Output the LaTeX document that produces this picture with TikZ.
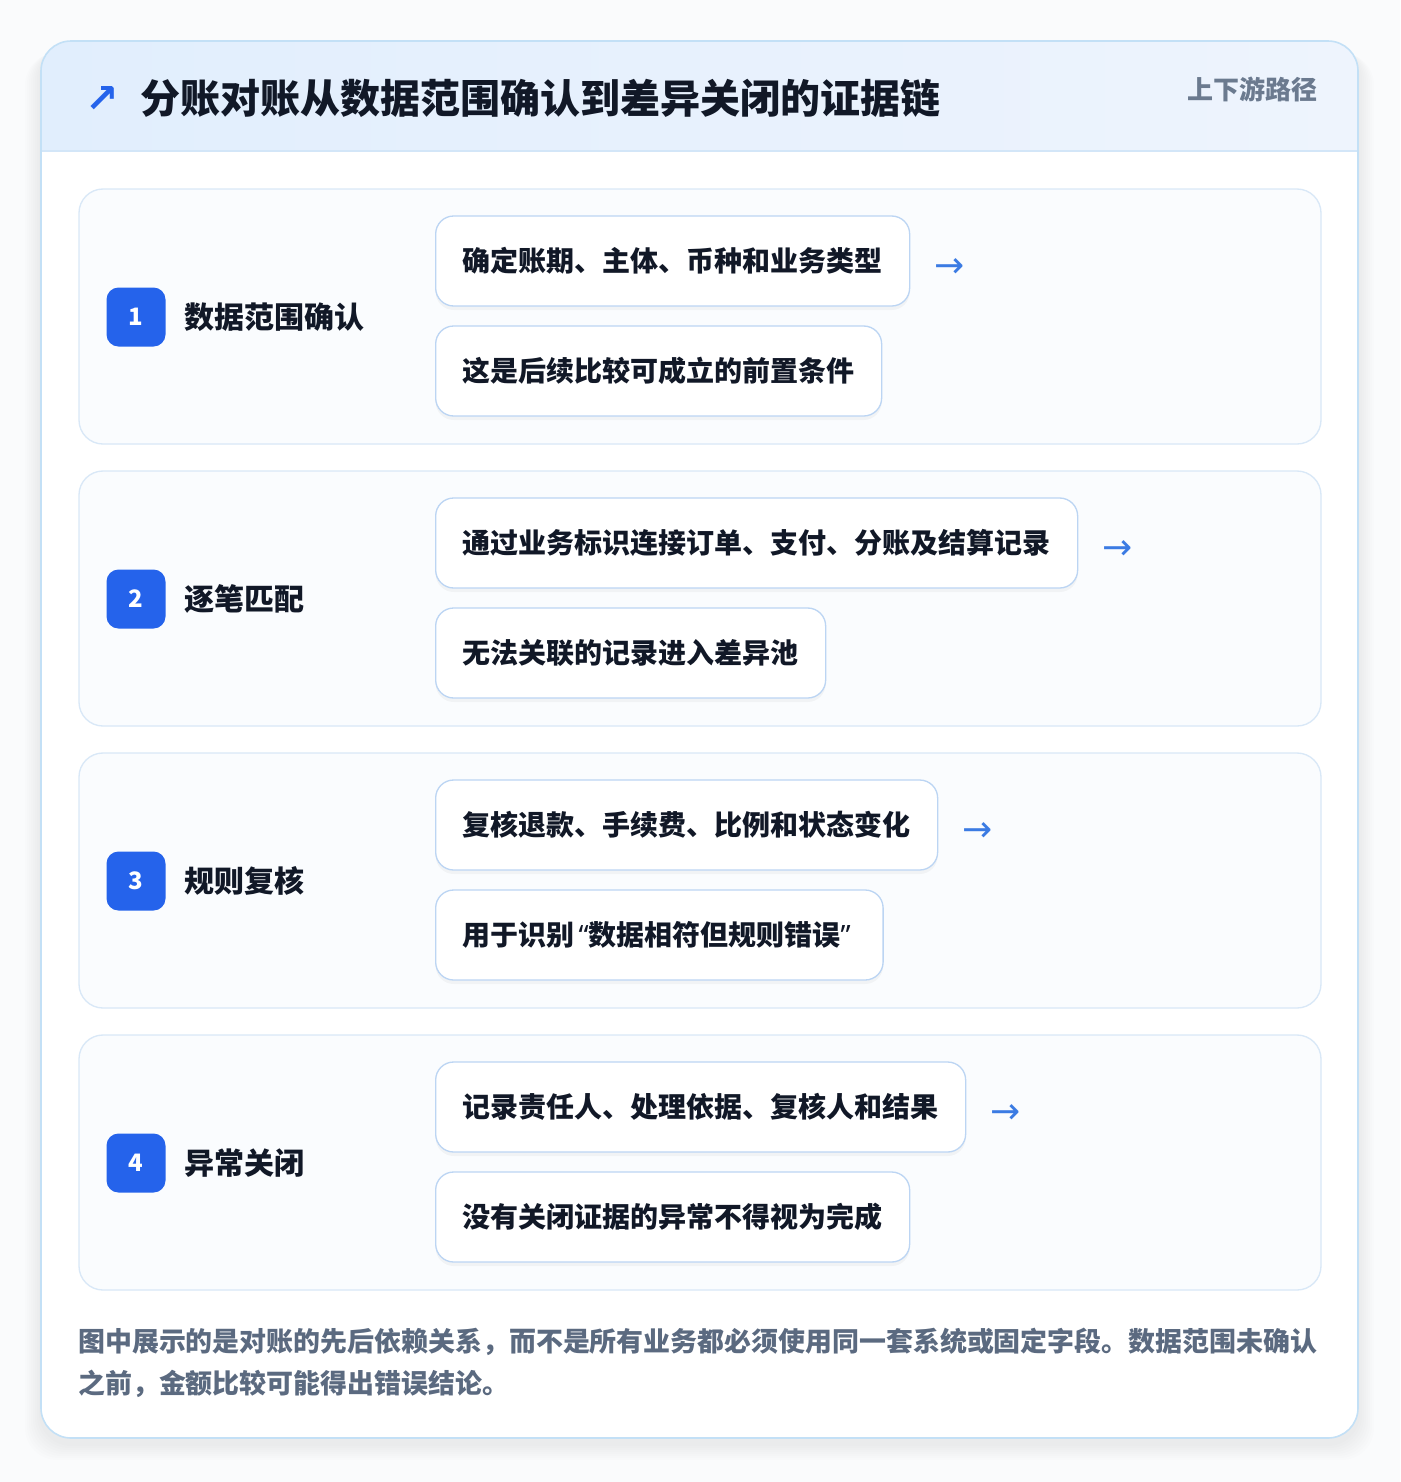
\documentclass[tikz,border=0pt]{standalone}
\usepackage{fontspec}
\setmainfont{Noto Sans CJK SC}
\newfontfamily\arrowfont{DejaVu Sans}
\newfontfamily\quotefont{Noto Sans}
\usetikzlibrary{positioning,shadows}
\definecolor{pagebg}{HTML}{FAFBFC}
\definecolor{cardline}{HTML}{C3E0F6}
\definecolor{headleft}{HTML}{E1EEFD}
\definecolor{headright}{HTML}{EEF4FD}
\definecolor{headrule}{HTML}{D3E6F8}
\definecolor{panelfill}{HTML}{FAFCFE}
\definecolor{panelline}{HTML}{D9E8F7}
\definecolor{boxline}{HTML}{BCD5F3}
\definecolor{badgeblue}{HTML}{2563EB}
\definecolor{arrowblue}{HTML}{3B7BE3}
\definecolor{inkdark}{HTML}{111827}
\definecolor{inkgrey}{HTML}{6B7A8F}
\definecolor{notegrey}{HTML}{5B6A80}
\def\titlefont{\fontsize{30pt}{36pt}\selectfont\bfseries}
\def\stepfont{\fontsize{22.5pt}{27pt}\selectfont\bfseries}
\def\itemfont{\fontsize{21pt}{25pt}\selectfont\bfseries}
\def\notefont{\fontsize{20.2pt}{31.5pt}\selectfont\bfseries}
\def\lq{\kern3pt{\quotefont\bfseries “}}
\def\rq{{\quotefont\bfseries ”}\kern4pt}
\tikzset{
  panel/.style={draw=panelline,line width=1pt,fill=panelfill,rounded corners=18pt},
  badge/.style={fill=badgeblue,rounded corners=9pt,minimum size=44.25pt,inner sep=0pt,
    text=white,font=\fontsize{18pt}{20pt}\selectfont\bfseries},
  steptitle/.style={inner sep=0pt,text=inkdark,font=\stepfont,anchor=west},
  itembox/.style={draw=boxline,line width=1pt,fill=white,rounded corners=13.5pt,
    minimum height=67.5pt,inner xsep=20.25pt,inner ysep=0pt,text=inkdark,font=\itemfont,anchor=west,
    drop shadow={shadow xshift=0pt,shadow yshift=-3pt,opacity=0.035,fill=black}},
  nextarrow/.style={inner sep=0pt,text=arrowblue,yshift=-5.5pt,font=\arrowfont\fontsize{27pt}{29pt}\selectfont}
}
\begin{document}
\begin{tikzpicture}[x=0.75pt,y=-0.75pt,line join=round]
  \useasboundingbox[fill=pagebg] (0,0) rectangle (1400,1482);
  %% card shadow
  \foreach \k in {1,...,8}
    \fill[black,opacity=0.007,rounded corners=24pt] (41-2*\k,41+4+\k) rectangle (1358+2*\k,1438+6+2*\k);
  %% card
  \fill[white,rounded corners=22.5pt] (41,41) rectangle (1358,1438);
  \begin{scope}
    \clip[rounded corners=22.5pt] (41,41) rectangle (1358,1438);
    \shade[left color=headleft,right color=headright] (41,41) rectangle (1358,151);
    \draw[headrule,line width=1pt] (41,151) -- (1358,151);
  \end{scope}
  \draw[cardline,line width=1.2pt,rounded corners=22.5pt] (41,41) rectangle (1358,1438);
  %% header
  \node[inner sep=0pt,text=badgeblue,font=\arrowfont\bfseries\fontsize{30pt}{32pt}\selectfont] (icon) at (102,99) {↗};
  \node[inner sep=0pt,anchor=west,text=inkdark,font=\titlefont] (title) at (140,98) {分账对账从数据范围确认到差异关闭的证据链};
  \node[inner sep=0pt,anchor=east,text=inkgrey,font=\fontsize{19.5pt}{22pt}\selectfont\bfseries] (tag) at (1318,89) {上下游路径};
  %% step 1
  \draw[panel] (79,189) rectangle (1321,444);
  \node[badge] (n1) at (136,317) {1};
  \node[steptitle,right=14pt of n1] (t1) {数据范围确认};
  \node[itembox] (b11) at (435,261) {确定账期、主体、币种和业务类型};
  \node[itembox] (b12) at (435,371) {这是后续比较可成立的前置条件};
  \node[nextarrow,right=18pt of b11] (a1) {→};
  %% step 2
  \draw[panel] (79,471) rectangle (1321,726);
  \node[badge] (n2) at (136,599) {2};
  \node[steptitle,right=14pt of n2] (t2) {逐笔匹配};
  \node[itembox] (b21) at (435,543) {通过业务标识连接订单、支付、分账及结算记录};
  \node[itembox] (b22) at (435,653) {无法关联的记录进入差异池};
  \node[nextarrow,right=18pt of b21] (a2) {→};
  %% step 3
  \draw[panel] (79,753) rectangle (1321,1008);
  \node[badge] (n3) at (136,881) {3};
  \node[steptitle,right=14pt of n3] (t3) {规则复核};
  \node[itembox] (b31) at (435,825) {复核退款、手续费、比例和状态变化};
  \node[itembox] (b32) at (435,935) {用于识别\lq 数据相符但规则错误\rq};
  \node[nextarrow,right=18pt of b31] (a3) {→};
  %% step 4
  \draw[panel] (79,1035) rectangle (1321,1290);
  \node[badge] (n4) at (136,1163) {4};
  \node[steptitle,right=14pt of n4] (t4) {异常关闭};
  \node[itembox] (b41) at (435,1107) {记录责任人、处理依据、复核人和结果};
  \node[itembox] (b42) at (435,1217) {没有关闭证据的异常不得视为完成};
  \node[nextarrow,right=18pt of b41] (a4) {→};
  %% note
  \node[inner sep=0pt,anchor=north west,align=left,text=notegrey,font=\notefont] (note) at (78,1328)
    {图中展示的是对账的先后依赖关系，而不是所有业务都必须使用同一套系统或固定字段。数据范围未确认\\之前，金额比较可能得出错误结论。};
\end{tikzpicture}
\end{document}
